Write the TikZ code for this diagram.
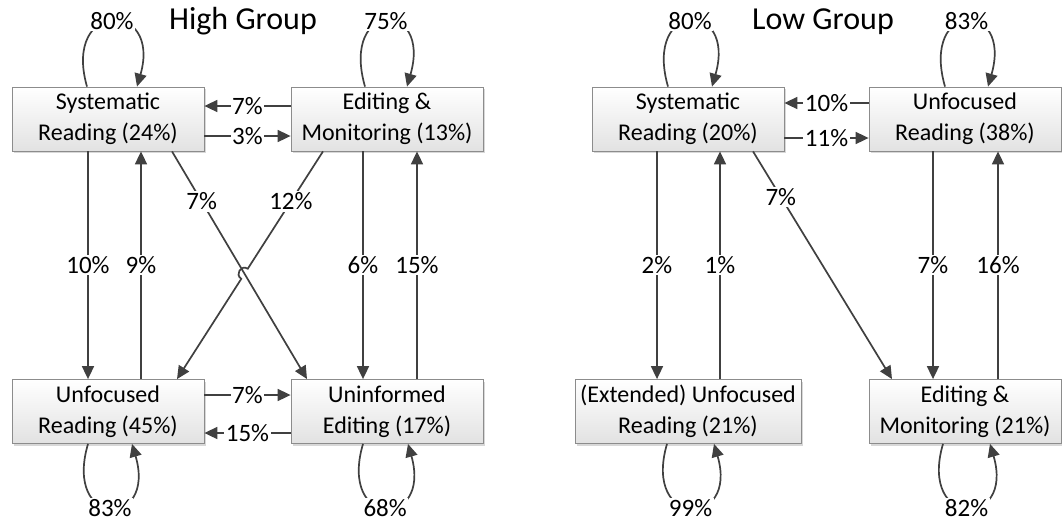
\documentclass[tikz,border=0pt]{standalone}
\usepackage{fontspec}
\setmainfont{Carlito}
\usetikzlibrary{arrows.meta,shadows,calc}
\definecolor{edgegray}{HTML}{404040}
\definecolor{boxline}{HTML}{8C8C8C}
\definecolor{boxbottom}{HTML}{E2E2E2}
\begin{document}
\begin{tikzpicture}[x=1pt,y=-1pt,
  box/.style={draw=boxline, line width=0.8pt, top color=white, bottom color=boxbottom,
    minimum width=192pt, minimum height=64pt, inner sep=0pt, align=center,
    font=\fontsize{24}{31}\selectfont,
    drop shadow={shadow xshift=2pt, shadow yshift=-2pt, opacity=0.3, fill=gray}},
  conn/.style={draw=edgegray, line width=1.7pt, -{Triangle[length=13pt,width=12pt]}},
  lbl/.style={fill=white, inner sep=1.5pt, font=\fontsize{25}{29}\selectfont},
  title/.style={font=\fontsize{32}{38}\selectfont, anchor=base}
]
\useasboundingbox[fill=white] (0,0) rectangle (1062,523);

% ---------------- High group ----------------
\node[title] (htitle) at (243,29) {High Group};
\node[box] (hsr) at (108,119)   {Systematic\\Reading (24\%)};
\node[box] (hem) at (387,119)   {Editing \&\\Monitoring (13\%)};
\node[box] (hur) at (108,411.5) {Unfocused\\Reading (45\%)};
\node[box] (hue) at (387,411.5) {Uninformed\\Editing (17\%)};

% self loops
\draw[conn] ([xshift=-21pt]hsr.north) .. controls ($(hsr.north)+(-46,-87)$) and ($(hsr.north)+(54,-87)$) .. node[lbl,midway]{80\%} ([xshift=29pt]hsr.north);
\draw[conn] ([xshift=-22pt]hem.north) .. controls ($(hem.north)+(-47,-87)$) and ($(hem.north)+(45,-87)$) .. node[lbl,midway]{75\%} ([xshift=20pt]hem.north);
\draw[conn] ([xshift=-20pt]hur.south) .. controls ($(hur.south)+(-45,85)$) and ($(hur.south)+(49,85)$) .. node[lbl,midway]{83\%} ([xshift=24pt]hur.south);
\draw[conn] ([xshift=-24pt]hue.south) .. controls ($(hue.south)+(-49,85)$) and ($(hue.south)+(45,85)$) .. node[lbl,midway]{68\%} ([xshift=21pt]hue.south);

% horizontal transitions
\draw[conn] ([yshift=13pt]hem.west) -- node[lbl,midway]{7\%} ([yshift=13pt]hsr.east);
\draw[conn] ([yshift=-17pt]hsr.east) -- node[lbl,midway]{3\%} ([yshift=-17pt]hem.west);
\draw[conn] ([yshift=16.5pt]hur.east) -- node[lbl,midway]{7\%} ([yshift=16.5pt]hue.west);
\draw[conn] ([yshift=-21.5pt]hue.west) -- node[lbl,midway]{15\%} ([yshift=-21.5pt]hur.east);

% vertical transitions
\draw[conn] ([xshift=-20pt]hsr.south) -- node[lbl,midway]{10\%} ([xshift=-20pt]hur.north);
\draw[conn] ([xshift=33pt]hur.north) -- node[lbl,midway]{9\%} ([xshift=33pt]hsr.south);
\draw[conn] ([xshift=-24pt]hem.south) -- node[lbl,midway]{6\%} ([xshift=-24pt]hue.north);
\draw[conn] ([xshift=30pt]hue.north) -- node[lbl,midway]{15\%} ([xshift=30pt]hem.south);

% crossing diagonals, the second one hops over the first
\coordinate (a1) at ([xshift=64pt]hsr.south);
\coordinate (a2) at ([xshift=-80pt]hue.north);
\coordinate (b1) at ([xshift=-64pt]hem.south);
\coordinate (b2) at ([xshift=69pt]hur.north);
\draw[conn] (a1) -- node[lbl,pos=0.22]{7\%} (a2);
\coordinate (hx) at (intersection of a1--a2 and b1--b2);
\coordinate (h1) at ($(hx)!6pt!(b1)$);
\coordinate (h2) at ($(hx)!6pt!(b2)$);
\coordinate (c1) at ($(h1)!8pt!-90:(hx)$);
\coordinate (c2) at ($(h2)!8pt!90:(hx)$);
\draw[conn] (b1) -- (h1) .. controls (c1) and (c2) .. (h2) -- (b2);
\path (b1) -- node[lbl,pos=0.22]{12\%} (b2);

% ---------------- Low group ----------------
\node[title] (ltitle) at (823,29) {Low Group};
\node[box] (lsr) at (688,119)   {Systematic\\Reading (20\%)};
\node[box] (lur) at (965,119)   {Unfocused\\Reading (38\%)};
\node[box, minimum width=226pt] (leu) at (688,411.5) {(Extended) Unfocused\\Reading (21\%)};
\node[box] (lem) at (965,411.5) {Editing \&\\Monitoring (21\%)};

% self loops
\draw[conn] ([xshift=-20pt]lsr.north) .. controls ($(lsr.north)+(-45,-87)$) and ($(lsr.north)+(49,-87)$) .. node[lbl,midway]{80\%} ([xshift=24pt]lsr.north);
\draw[conn] ([xshift=-20pt]lur.north) .. controls ($(lur.north)+(-45,-87)$) and ($(lur.north)+(48,-87)$) .. node[lbl,midway]{83\%} ([xshift=23pt]lur.north);
\draw[conn] ([xshift=-21pt]leu.south) .. controls ($(leu.south)+(-46,85)$) and ($(leu.south)+(51,85)$) .. node[lbl,midway]{99\%} ([xshift=26pt]leu.south);
\draw[conn] ([xshift=-22pt]lem.south) .. controls ($(lem.south)+(-47,85)$) and ($(lem.south)+(50,85)$) .. node[lbl,midway]{82\%} ([xshift=25pt]lem.south);

% horizontal transitions
\draw[conn] ([yshift=16pt]lur.west) -- node[lbl,midway]{10\%} ([yshift=16pt]lsr.east);
\draw[conn] ([yshift=-19pt]lsr.east) -- node[lbl,midway]{11\%} ([yshift=-19pt]lur.west);

% vertical transitions
\draw[conn] ([xshift=-31pt]lsr.south) -- node[lbl,midway]{2\%} ([xshift=-31pt]leu.north);
\draw[conn] ([xshift=32pt]leu.north) -- node[lbl,midway]{1\%} ([xshift=32pt]lsr.south);
\draw[conn] ([xshift=-32pt]lur.south) -- node[lbl,midway]{7\%} ([xshift=-32pt]lem.north);
\draw[conn] ([xshift=33pt]lem.north) -- node[lbl,midway]{16\%} ([xshift=33pt]lur.south);

% diagonal
\draw[conn] ([xshift=65pt]lsr.south) -- node[lbl,pos=0.2]{7\%} ([xshift=-73pt]lem.north);
\end{tikzpicture}
\end{document}
